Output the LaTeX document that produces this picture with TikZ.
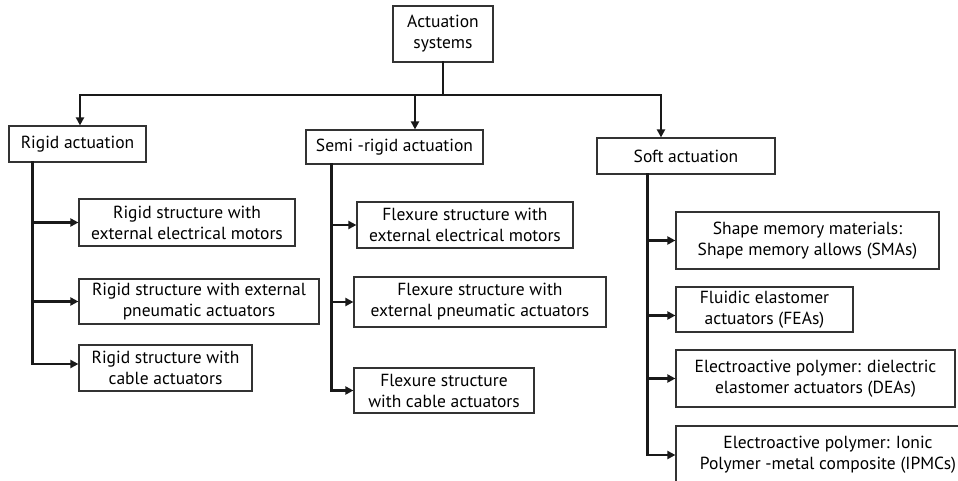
\documentclass[tikz,border=0pt]{standalone}
\usepackage{fontspec}
\setmainfont{PT Sans}
\usetikzlibrary{arrows.meta}
\tikzset{
  box/.style={draw=black!80, line width=1.2pt, inner sep=0pt, align=center, font=\fontsize{17.5}{21}\selectfont},
  link/.style={line width=2.6pt, black!90, line cap=rect},
  arr/.style={link, -{Triangle[length=8pt,width=8pt]}},
}
\begin{document}
\begin{tikzpicture}[x=1pt,y=-1pt]
    \useasboundingbox (0,0) rectangle (958,481);
    \clip (0,0) rectangle (958,481);
    % root
    \node[box, minimum width=100pt, minimum height=56pt] (root) at (443,34) {Actuation\\systems};
    % three families
    \node[box, minimum width=137pt, minimum height=36pt] (rigid) at (77.5,144) {Rigid actuation};
    \node[box, minimum width=177pt, minimum height=34pt] (semi) at (394.5,147) {Semi -rigid actuation};
    \node[box, minimum width=178pt, minimum height=36pt] (soft) at (686,156) {Soft actuation};
    % rigid children
    \node[box, minimum width=216pt, minimum height=47pt] (r1) at (187,222.5) {Rigid structure with\\external electrical motors};
    \node[box, minimum width=240pt, minimum height=45pt] (r2) at (199,301.5) {Rigid structure with external\\pneumatic actuators};
    \node[box, minimum width=173pt, minimum height=46pt] (r3) at (165.5,368) {Rigid structure with\\cable actuators};
    % semi-rigid children
    \node[box, minimum width=216pt, minimum height=46pt] (f1) at (465,225) {Flexure structure with\\external electrical motors};
    \node[box, minimum width=252pt, minimum height=50pt] (f2) at (480,302) {Flexure structure with\\external pneumatic actuators};
    \node[box, minimum width=180pt, minimum height=45pt] (f3) at (444,390.5) {Flexure structure\\with cable actuators};
    % soft children
    \node[box, minimum width=263pt, minimum height=57pt] (s1) at (807.5,240.5) {Shape memory materials:\\Shape memory allows (SMAs)};
    \node[box, minimum width=177pt, minimum height=45pt] (s2) at (764.5,309.5) {Fluidic elastomer\\actuators (FEAs)};
    \node[box, minimum width=279pt, minimum height=57pt] (s3) at (815.5,378.5) {Electroactive polymer: dielectric\\elastomer actuators (DEAs)};
    \node[box, minimum width=304pt, minimum height=58pt] (s4) at (828,455) {Electroactive polymer: Ionic\\Polymer -metal composite (IPMCs)};
    % bus under the root
    \coordinate (busL) at (80,95);
    \coordinate (busM) at (415,95);
    \coordinate (busR) at (661,95);
    \draw[link] (root.south) -- (root.south |- busL);
    \draw[link] (busL) -- (busR);
    \draw[arr] (busL) -- (busL |- rigid.north);
    \draw[arr] (busM) -- (busM |- semi.north);
    \draw[arr] (busR) -- (busR |- soft.north);
    % rigid branch
    \coordinate (rstem) at ([xshift=24pt]rigid.south west);
    \draw[arr] (rstem) |- ([yshift=4pt]r3.west);
    \draw[arr] (rstem |- r1.west) -- (r1.west);
    \draw[arr] (rstem |- r2.west) -- (r2.west);
    % semi-rigid branch
    \coordinate (fstem) at ([xshift=26pt]semi.south west);
    \draw[arr] (fstem) |- (f3.west);
    \draw[arr] (fstem |- f1.west) -- (f1.west);
    \draw[arr] (fstem |- f2.west) -- (f2.west);
    % soft branch
    \coordinate (sstem) at ([xshift=51pt]soft.south west);
    \draw[arr] (sstem) |- (s4.west);
    \draw[arr] (sstem |- s1.west) -- (s1.west);
    \draw[arr] (sstem |- s2.west) ++(0,6) -- ([yshift=-6pt]s2.west);
    \draw[arr] (sstem |- s3.west) -- (s3.west);
\end{tikzpicture}
\end{document}
